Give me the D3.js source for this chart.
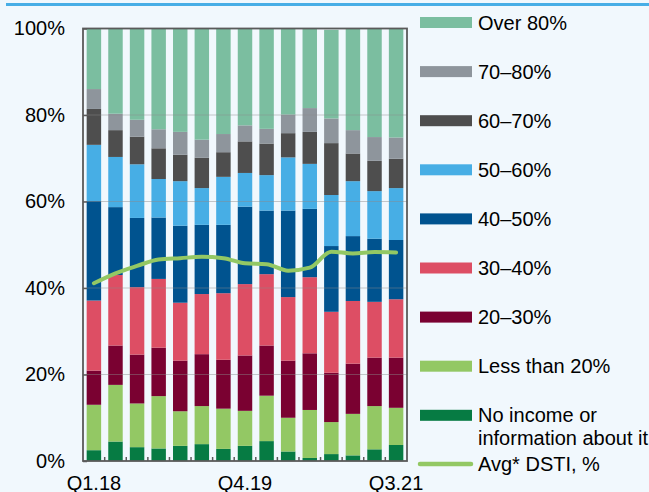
<!DOCTYPE html>
<meta charset="utf-8">
<script src="https://d3js.org/d3.v7.min.js"></script>
<style>
  body { margin: 0; background: #f1f8fd; }
  svg { display: block; }
  text { font-family: "Liberation Sans", Arial, sans-serif; fill: #000; }
</style>
<div id="screen"></div>
<script>

  // quarters on the x axis
  var quarters = ["Q1.18","Q2.18","Q3.18","Q4.18","Q1.19","Q2.19","Q3.19","Q4.19",
                  "Q1.20","Q2.20","Q3.20","Q4.20","Q1.21","Q2.21","Q3.21"];
  var tickLabels = ["Q1.18","Q4.19","Q3.21"];
  var yTicks = [0, 20, 40, 60, 80, 100];

  // shares of each DSTI bucket, % (bottom to top)
  var noIncome  = [2.5, 4.5, 3.2, 2.9, 3.5, 3.9, 2.8, 3.5, 4.6, 2.2, 0.7, 1.6, 1.3, 2.7, 3.7];
  var less20    = [10.5, 13.1, 10.1, 12.1, 8.0, 8.8, 9.3, 8.1, 10.5, 7.8, 11.1, 7.4, 9.6, 10.0, 8.6];
  var d20_30    = [7.9, 9.1, 11.3, 11.2, 11.7, 12.0, 11.3, 12.8, 11.6, 13.2, 13.1, 11.4, 11.6, 11.2, 11.6];
  var d30_40    = [16.2, 16.3, 15.6, 15.9, 13.4, 13.9, 15.4, 16.5, 16.5, 14.7, 17.6, 14.1, 14.5, 12.9, 13.5];
  var d40_50    = [23.0, 15.7, 16.0, 14.2, 17.8, 16.0, 15.8, 17.9, 14.7, 20.0, 15.8, 15.2, 15.0, 14.6, 13.7];
  var d50_60    = [13.0, 11.6, 12.4, 8.9, 10.3, 8.5, 11.1, 7.8, 8.2, 12.3, 10.4, 11.8, 12.7, 11.0, 12.0];
  var d60_70    = [8.3, 6.2, 6.4, 7.1, 6.1, 7.0, 5.7, 7.3, 7.3, 5.6, 7.4, 12.0, 6.4, 7.0, 6.8];
  var d70_80    = [4.6, 3.8, 3.9, 4.4, 5.3, 4.2, 4.2, 3.7, 3.4, 4.3, 5.5, 5.7, 5.4, 5.5, 4.9];
  var over80    = [14.0, 19.7, 21.1, 24.3, 24.1, 25.7, 24.5, 23.2, 23.2, 19.9, 18.4, 20.5, 23.5, 25.1, 25.2];
  // average DSTI, %
  var avgDsti   = [41.1, 43.4, 45.1, 46.6, 46.9, 47.2, 46.9, 45.7, 45.5, 44.0, 44.7, 48.4, 48.0, 48.3, 48.2];

  var seriesNames  = ["No income or information about it","Less than 20%","20–30%","30–40%",
                      "40–50%","50–60%","60–70%","70–80%","Over 80%"];
  var seriesValues = [noIncome, less20, d20_30, d30_40, d40_50, d50_60, d60_70, d70_80, over80];
  var seriesColors = ["#067b43","#93c864","#7a0131","#dd4e64","#00538f","#47aee5","#4e4e4e","#8e959c","#7bbea0"];

  var width = 649, height = 492;
  var plot = {left: 83, right: 407, top: 28.5, bottom: 461};

  var svg = d3.select("#screen")
      .append("svg")
      .attr("width", width)
      .attr("height", height);

  // top rule
  svg.append("rect")
      .attr("x", 6).attr("y", 3)
      .attr("width", width - 6).attr("height", 3)
      .style("fill", "#48aee6");

  var x = d3.scaleBand()
      .domain(quarters)
      .range([plot.left, plot.right])
      .paddingInner(0.33)
      .paddingOuter(0.17);

  var y = d3.scaleLinear()
      .domain([0, 100])
      .range([plot.bottom, plot.top]);

  // stack
  var table = quarters.map(function(q, i) {
      var row = {q: q};
      seriesNames.forEach(function(n, k) { row[n] = seriesValues[k][i]; });
      return row;
  });
  var stacked = d3.stack().keys(seriesNames)(table);

  var bars = svg.append("g");
  stacked.forEach(function(layer, k) {
      bars.append("g")
          .style("fill", seriesColors[k])
          .selectAll("rect")
          .data(layer)
          .enter()
          .append("rect")
          .attr("x", function(d) { return x(d.data.q); })
          .attr("width", x.bandwidth())
          .attr("y", function(d) { return y(Math.min(d[1], 100)); })
          .attr("height", function(d) { return y(d[0]) - y(Math.min(d[1], 100)); });
  });

  // grid lines over bars
  svg.append("g")
      .selectAll("line")
      .data(yTicks.filter(function(t) { return t > 0 && t < 100; }))
      .enter()
      .append("line")
      .attr("x1", plot.left).attr("x2", plot.right)
      .attr("y1", function(d) { return y(d); })
      .attr("y2", function(d) { return y(d); })
      .style("stroke", "#8a8a8a")
      .style("stroke-opacity", 0.45)
      .style("stroke-width", 1);

  // average line
  var line = d3.line()
      .x(function(d, i) { return x(quarters[i]) + x.bandwidth() / 2; })
      .y(function(d) { return y(d); })
      .curve(d3.curveMonotoneX);
  svg.append("path")
      .datum(avgDsti)
      .attr("d", line)
      .style("fill", "none")
      .style("stroke", "#93c864")
      .style("stroke-width", 4)
      .style("stroke-linecap", "round");

  // frame
  svg.append("rect")
      .attr("x", plot.left).attr("y", plot.top)
      .attr("width", plot.right - plot.left)
      .attr("height", plot.bottom - plot.top)
      .style("fill", "none")
      .style("stroke", "#5a5a5a")
      .style("stroke-width", 1.8);

  // y axis
  var yAxis = svg.append("g")
      .attr("transform", "translate(" + plot.left + ",0)")
      .call(d3.axisLeft(y).tickValues(yTicks).tickSize(-4).tickPadding(18)
            .tickFormat(function(d) { return d + "%"; }));
  yAxis.select(".domain").remove();
  yAxis.selectAll(".tick line").style("stroke", "#5a5a5a").style("stroke-width", 1.5);
  yAxis.selectAll("text").style("font-size", "20px").style("font-family", "Liberation Sans, Arial, sans-serif");

  // x axis: ticks between categories
  var step = x.step();
  svg.append("g")
      .selectAll("line")
      .data(quarters.slice(1))
      .enter()
      .append("line")
      .attr("x1", function(d) { return x(d) - step * 0.33 / 2; })
      .attr("x2", function(d) { return x(d) - step * 0.33 / 2; })
      .attr("y1", plot.bottom)
      .attr("y2", plot.bottom - 4)
      .style("stroke", "#5a5a5a")
      .style("stroke-width", 1.5);

  svg.append("g")
      .selectAll("text")
      .data(tickLabels)
      .enter()
      .append("text")
      .attr("x", function(d) { return x(d) + x.bandwidth() / 2; })
      .attr("y", 489.5)
      .attr("text-anchor", "middle")
      .style("font-size", "20px")
      .text(function(d) { return d; });

  // legend
  var legendTop = 22.5, legendStep = 49.1;
  var legendOrder = seriesNames.slice().reverse();
  var legend = svg.append("g");
  legendOrder.forEach(function(name, i) {
      var k = seriesNames.indexOf(name);
      var cy = legendTop + i * legendStep;
      legend.append("rect")
          .attr("x", 420).attr("y", cy - 5.5)
          .attr("width", 52).attr("height", 11)
          .style("fill", seriesColors[k]);
      if (name === "No income or information about it") {
          var t = legend.append("text")
              .attr("x", 478).attr("y", cy + 7)
              .style("font-size", "20px");
          t.append("tspan").attr("x", 478).text("No income or");
          t.append("tspan").attr("x", 478).attr("dy", 22.7).text("information about it");
      } else {
          legend.append("text")
              .attr("x", 478).attr("y", cy + 7)
              .style("font-size", "20px")
              .text(name);
      }
  });
  var lineY = legendTop + 9 * legendStep - 0.5;
  legend.append("line")
      .attr("x1", 420).attr("x2", 471)
      .attr("y1", lineY).attr("y2", lineY)
      .style("stroke", "#93c864")
      .style("stroke-width", 4.5)
      .style("stroke-linecap", "round");
  legend.append("text")
      .attr("x", 478).attr("y", lineY + 7)
      .style("font-size", "20px")
      .text("Avg* DSTI, %");

</script>
